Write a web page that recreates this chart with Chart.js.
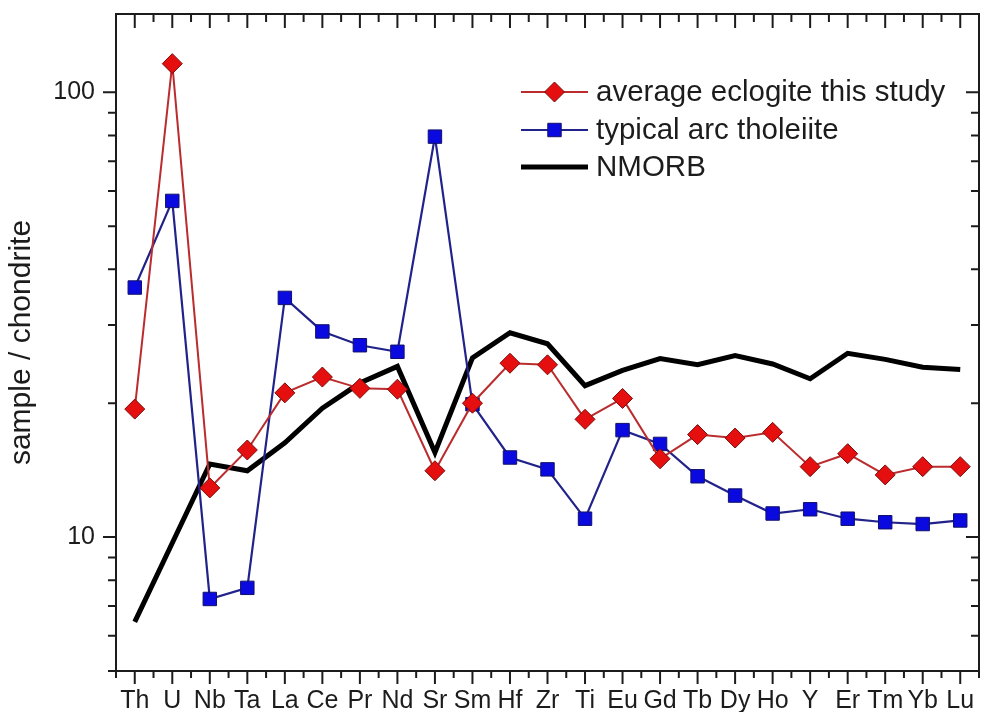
<!DOCTYPE html>
<html>
<head>
<meta charset="utf-8">
<script src="https://cdn.jsdelivr.net/npm/chart.js@4.4.1/dist/chart.umd.min.js"></script>
<style>
  html, body { margin: 0; padding: 0; background: #fff; overflow: hidden; width: 983px; height: 712px; }
  #clip { position: relative; width: 983px; height: 712px; overflow: hidden; }
  #spider { position: absolute; left: 0; top: 0; display: block; width: 990px; height: 712px; }
</style>
</head>
<body>
<div id="clip"><canvas id="spider" width="990" height="712"></canvas></div>
<script>
// Chondrite-normalised trace element pattern (spider diagram)
const elements = ['Th','U','Nb','Ta','La','Ce','Pr','Nd','Sr','Sm','Hf','Zr','Ti','Eu','Gd','Tb','Dy','Ho','Y','Er','Tm','Yb','Lu'];
const eclogite = [19.4, 116, 12.9, 15.7, 21.1, 22.9, 21.6, 21.5, 14.1, 20.0, 24.6, 24.4, 18.4, 20.5, 15.0, 17.0, 16.7, 17.2, 14.4, 15.4, 13.8, 14.4, 14.4];
const arcTholeiite = [36.4, 57, 7.26, 7.69, 34.5, 29.0, 27.0, 26.1, 79.5, 19.9, 15.1, 14.2, 11.0, 17.4, 16.2, 13.7, 12.4, 11.3, 11.55, 11.0, 10.8, 10.7, 10.9];
const nmorb = [6.45, 9.7, 14.6, 14.1, 16.3, 19.5, 22.2, 24.2, 15.5, 25.3, 28.8, 27.2, 21.9, 23.7, 25.2, 24.4, 25.6, 24.5, 22.7, 25.9, 25.1, 24.1, 23.8];
const yLabelValues = [10, 100];
const yMin = 5, yMax = 150;

const FONT = '"Liberation Sans", Arial, Helvetica, sans-serif';
const INK = '#1c1c1c';

// Frame and tick marks: outward on bottom/left, inward on top/right
const frameTicks = {
  id: 'frameTicks',
  afterDraw(chart) {
    const { ctx, chartArea: a, scales: { x, y } } = chart;
    ctx.save();
    ctx.strokeStyle = INK;
    ctx.lineWidth = 2;
    ctx.lineCap = 'butt';
    ctx.beginPath();
    ctx.rect(a.left, a.top, a.right - a.left, a.bottom - a.top);
    ctx.stroke();

    const seg = (x1, y1, x2, y2) => { ctx.moveTo(x1, y1); ctx.lineTo(x2, y2); };
    ctx.beginPath();
    // category ticks (major) and half-way ticks (minor)
    const n = elements.length;
    for (let i = 0; i < n; i++) {
      const px = x.getPixelForValue(i);
      seg(px, a.bottom, px, a.bottom + 13);
      seg(px, a.top, px, a.top + 14);
    }
    for (let i = 0; i <= n; i++) {
      const px = (x.getPixelForValue(Math.max(i - 1, 0)) + x.getPixelForValue(Math.min(i, n - 1))) / 2;
      const edge = i === 0 ? a.left : (i === n ? a.right : px);
      seg(edge, a.bottom, edge, a.bottom + 7);
      seg(edge, a.top, edge, a.top + 8);
    }
    // log axis: major at decades, minor at 2..9 multiples
    for (let d = 1; d <= 100; d *= 10) {
      for (let m = 1; m <= 9; m++) {
        const v = d * m;
        if (v < yMin || v > yMax) continue;
        const py = y.getPixelForValue(v);
        const len = m === 1 ? 13 : 8;
        seg(a.left - len, py, a.left, py);
        seg(a.right - len, py, a.right, py);
      }
    }
    ctx.stroke();
    ctx.restore();
  }
};

// Legend with line sample and marker, placed inside the plot
const lineLegend = {
  id: 'lineLegend',
  afterDraw(chart) {
    const { ctx, chartArea: a } = chart;
    const x0 = a.right - 458, x1 = a.right - 391, tx = a.right - 383;
    const rows = [a.top + 78, a.top + 116, a.top + 153];
    ctx.save();
    chart.data.datasets.forEach((ds, i) => {
      const yy = rows[i];
      ctx.beginPath();
      ctx.strokeStyle = ds.borderColor;
      ctx.lineWidth = ds.borderWidth;
      ctx.moveTo(x0, yy); ctx.lineTo(x1, yy);
      ctx.stroke();
      const cx = (x0 + x1) / 2;
      if (ds.pointStyle === 'rectRot') {
        const r = ds.pointRadius;
        ctx.beginPath();
        ctx.moveTo(cx, yy - r); ctx.lineTo(cx + r, yy); ctx.lineTo(cx, yy + r); ctx.lineTo(cx - r, yy); ctx.closePath();
        ctx.fillStyle = ds.pointBackgroundColor; ctx.fill();
        ctx.lineWidth = ds.pointBorderWidth; ctx.strokeStyle = ds.pointBorderColor; ctx.stroke();
      } else if (ds.pointStyle === 'rect') {
        const h = ds.pointRadius * Math.SQRT1_2;
        ctx.beginPath();
        ctx.rect(cx - h, yy - h, 2 * h, 2 * h);
        ctx.fillStyle = ds.pointBackgroundColor; ctx.fill();
        ctx.lineWidth = ds.pointBorderWidth; ctx.strokeStyle = ds.pointBorderColor; ctx.stroke();
      }
      ctx.fillStyle = INK;
      ctx.font = '29.5px ' + FONT;
      ctx.textAlign = 'left';
      ctx.textBaseline = 'middle';
      ctx.fillText(ds.label, tx, yy + 1);
    });
    ctx.restore();
  }
};

new Chart(document.getElementById('spider'), {
  type: 'line',
  data: {
    labels: elements,
    datasets: [
      {
        label: 'average eclogite this study',
        data: eclogite,
        borderColor: '#bb2c2e',
        borderWidth: 2,
        pointStyle: 'rectRot',
        pointRadius: 10,
        pointHoverRadius: 10,
        pointBackgroundColor: '#e50f0f',
        pointBorderColor: '#7a0c0c',
        pointBorderWidth: 1,
        tension: 0
      },
      {
        label: 'typical arc tholeiite',
        data: arcTholeiite,
        borderColor: '#22238a',
        borderWidth: 2.2,
        pointStyle: 'rect',
        pointRadius: 9.5,
        pointHoverRadius: 9.5,
        pointBackgroundColor: '#0a0ae0',
        pointBorderColor: '#10106a',
        pointBorderWidth: 1,
        tension: 0
      },
      {
        label: 'NMORB',
        data: nmorb,
        borderColor: '#000000',
        borderWidth: 5,
        pointRadius: 0,
        pointHoverRadius: 0,
        borderJoinStyle: 'miter',
        tension: 0
      }
    ]
  },
  options: {
    responsive: false,
    maintainAspectRatio: false,
    devicePixelRatio: 1,
    animation: false,
    events: [],
    layout: { padding: { top: 14, right: 2, left: 0, bottom: 0 } },
    plugins: { legend: { display: false }, tooltip: { enabled: false } },
    scales: {
      x: {
        type: 'category',
        offset: true,
        grid: { display: false, drawTicks: false },
        border: { display: false },
        ticks: {
          autoSkip: false, maxRotation: 0, minRotation: 0,
          padding: 18, color: INK,
          font: { family: FONT, size: 25, lineHeight: 1 }
        },
        afterFit(s) { s.height = 41; s.paddingLeft = 0; s.paddingRight = 0; }
      },
      y: {
        type: 'logarithmic',
        min: yMin, max: yMax,
        grid: { display: false, drawTicks: false },
        border: { display: false },
        afterBuildTicks(s) { s.ticks = yLabelValues.map(v => ({ value: v })); },
        ticks: {
          padding: 21, color: INK,
          font: { family: FONT, size: 25, lineHeight: 1 },
          callback: v => String(v)
        },
        title: {
          display: true, text: 'sample / chondrite', color: INK,
          font: { family: FONT, size: 30, lineHeight: 1 },
          padding: { top: 7, bottom: 0 }
        },
        afterFit(s) { s.width = 116; s.paddingTop = 0; s.paddingBottom = 0; }
      }
    }
  },
  plugins: [frameTicks, lineLegend]
});
</script>
</body>
</html>
